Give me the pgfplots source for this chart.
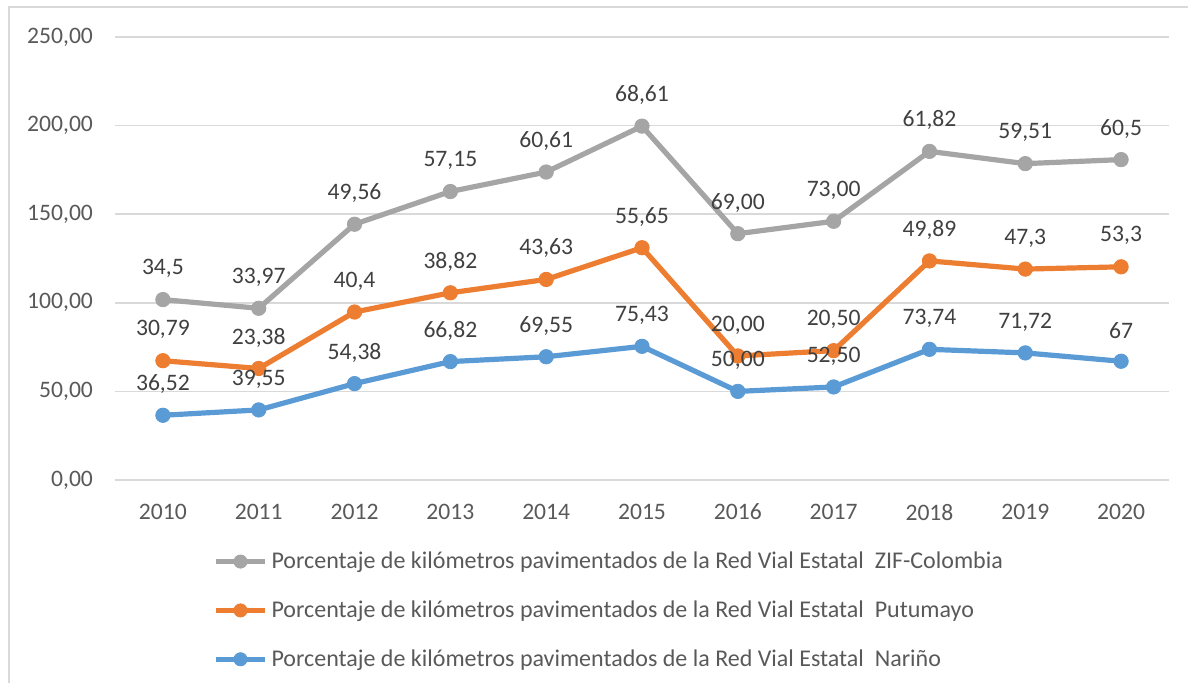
\documentclass[border=0pt]{standalone}
\usepackage{pgfplots}
\pgfplotsset{compat=1.18}
\usepackage{pgfplotstable}
\usepackage{fontspec}
\setmainfont{Carlito}
\definecolor{cgray}{HTML}{A5A5A5}
\definecolor{corange}{HTML}{ED7D31}
\definecolor{cblue}{HTML}{5B9BD5}
\definecolor{ctext}{HTML}{595959}
\definecolor{clabel}{HTML}{404040}
\definecolor{cgrid}{HTML}{D9D9D9}
\pgfplotstableread{
x y lab
0 36.52 36,52
1 39.55 39,55
2 54.38 54,38
3 66.82 66,82
4 69.55 69,55
5 75.43 75,43
6 50.00 50,00
7 52.50 52,50
8 73.74 73,74
9 71.72 71,72
10 67 67
}\narino
\pgfplotstableread{
x y lab
0 30.79 30,79
1 23.38 23,38
2 40.4 40,4
3 38.82 38,82
4 43.63 43,63
5 55.65 55,65
6 20.00 20,00
7 20.50 20,50
8 49.89 49,89
9 47.3 47,3
10 53.3 53,3
}\putumayo
\pgfplotstableread{
x y lab
0 34.5 34,5
1 33.97 33,97
2 49.56 49,56
3 57.15 57,15
4 60.61 60,61
5 68.61 68,61
6 69.00 69,00
7 73.00 73,00
8 61.82 61,82
9 59.51 59,51
10 60.5 60,5
}\zif
\begin{document}
\begin{tikzpicture}
\useasboundingbox (0,0) rectangle (594pt,341.5pt);
\draw[cgrid, line width=0.6pt] (4.5pt,0) -- (4.5pt,338pt) -- (594pt,338pt);
\begin{axis}[
  at={(57.5pt,101.5pt)}, anchor=south west,
  scale only axis, width=527pt, height=221.5pt,
  xmin=-0.5, xmax=10.5, ymin=0, ymax=250,
  stack plots=y,
  xtick={0,...,10},
  xticklabels={2010,2011,2012,2013,2014,2015,2016,2017,2018,2019,2020},
  ytick={0,50,100,150,200,250},
  ymajorgrids, grid style={cgrid, line width=0.8pt},
  axis line style={draw=none},
  major tick length=0pt,
  font=\fontsize{11.8pt}{13pt}\selectfont,
  tick label style={text=ctext, font=\fontsize{11.8pt}{13pt}\selectfont},
  xticklabel style={yshift=-8.5pt},
  yticklabel style={xshift=-7.5pt},
  /pgf/number format/assume math mode=true,
  yticklabel={\pgfmathprintnumber[fixed,fixed zerofill,precision=2,use comma]{\tick}},
  clip=false,
  point meta=explicit symbolic,
  nodes near coords,
  nodes near coords style={anchor=center, yshift=15.5pt, text=clabel, font=\fontsize{11.8pt}{13pt}\selectfont},
  every axis plot/.append style={line width=2.6pt, mark=*, mark size=3.6pt},
  legend cell align=left,
  reverse legend,
  legend style={draw=none, fill=none, at={(0.093,-0.152)}, anchor=north west,
     row sep=10.6pt, text=ctext, font=\fontsize{12pt}{13pt}\selectfont,
     inner sep=0pt, nodes={inner sep=2pt}},
  legend image code/.code={\draw[#1, mark repeat=2, mark phase=2, mark size=3.3pt] plot coordinates {(0cm,0cm) (0.43cm,0cm) (0.86cm,0cm)};},
]
\addplot[color=cblue, mark options={fill=cblue, draw=cblue, line width=0.4pt}] table[x=x,y=y,meta=lab] {\narino};
\addlegendentry{Porcentaje de kilómetros pavimentados de la Red Vial Estatal\ \ Nariño}
\addplot[color=corange, mark options={fill=corange, draw=corange, line width=0.4pt}] table[x=x,y=y,meta=lab] {\putumayo};
\addlegendentry{Porcentaje de kilómetros pavimentados de la Red Vial Estatal\ \ Putumayo}
\addplot[color=cgray, mark options={fill=cgray, draw=cgray, line width=0.4pt}] table[x=x,y=y,meta=lab] {\zif};
\addlegendentry{Porcentaje de kilómetros pavimentados de la Red Vial Estatal\ \ ZIF-Colombia}
\end{axis}
\end{tikzpicture}
\end{document}
